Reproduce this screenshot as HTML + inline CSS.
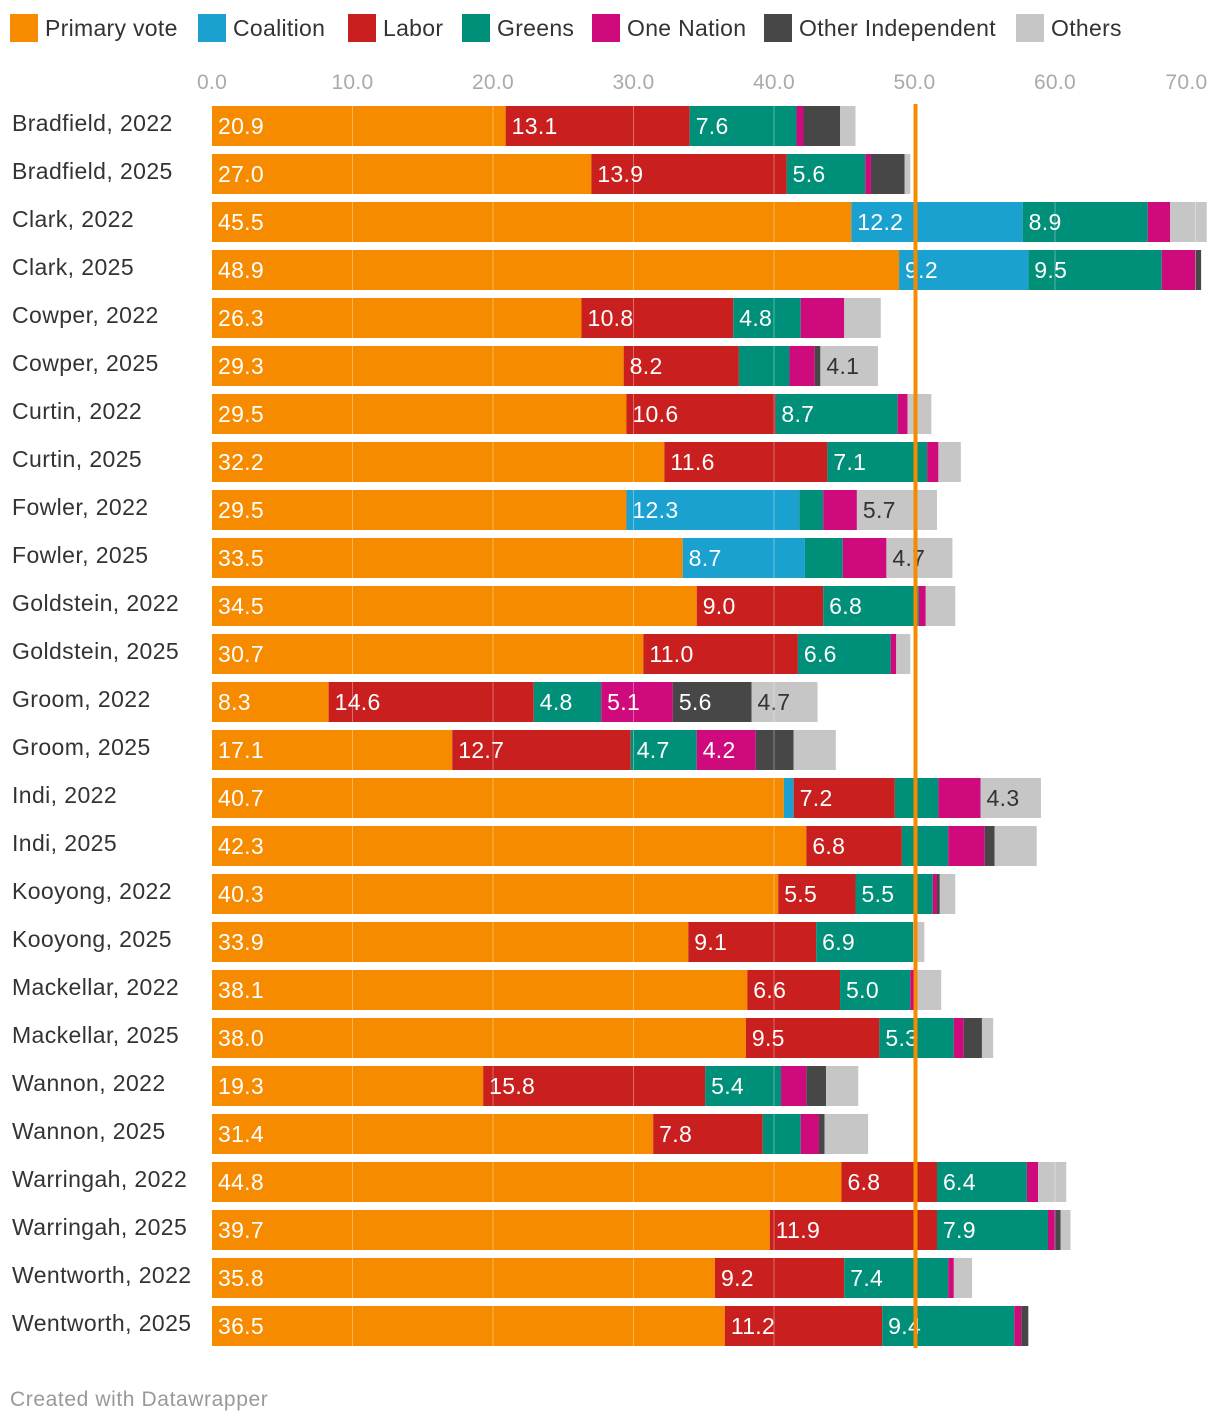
<!DOCTYPE html>
<html><head><meta charset="utf-8">
<style>
body{margin:0;background:#fff;font-family:"Liberation Sans",sans-serif;}
#wrap{position:relative;width:1220px;height:1422px;}
</style></head>
<body>
<div id="wrap">
<svg id="svg" width="1220" height="1422" xmlns="http://www.w3.org/2000/svg"></svg>
</div>
<script>
const categories=["Bradfield, 2022","Bradfield, 2025","Clark, 2022","Clark, 2025","Cowper, 2022","Cowper, 2025","Curtin, 2022","Curtin, 2025","Fowler, 2022","Fowler, 2025","Goldstein, 2022","Goldstein, 2025","Groom, 2022","Groom, 2025","Indi, 2022","Indi, 2025","Kooyong, 2022","Kooyong, 2025","Mackellar, 2022","Mackellar, 2025","Wannon, 2022","Wannon, 2025","Warringah, 2022","Warringah, 2025","Wentworth, 2022","Wentworth, 2025"];
const seriesNames=["Primary vote","Coalition","Labor","Greens","One Nation","Other Independent","Others"];
const seriesColors=["#f68b00","#1ba1cf","#c91f1f","#009079","#cf0a7d","#474747","#c6c6c6"];
const primary=[20.9,27.0,45.5,48.9,26.3,29.3,29.5,32.2,29.5,33.5,34.5,30.7,8.3,17.1,40.7,42.3,40.3,33.9,38.1,38.0,19.3,31.4,44.8,39.7,35.8,36.5];
const coalition=[0,0,12.2,9.2,0,0,0,0,12.3,8.7,0,0,0,0,0.7,0,0,0,0,0,0,0,0,0,0,0];
const labor=[13.1,13.9,0,0,10.8,8.2,10.6,11.6,0,0,9.0,11.0,14.6,12.7,7.2,6.8,5.5,9.1,6.6,9.5,15.8,7.8,6.8,11.9,9.2,11.2];
const greens=[7.6,5.6,8.9,9.5,4.8,3.6,8.7,7.1,1.7,2.7,6.8,6.6,4.8,4.7,3.1,3.3,5.5,6.9,5.0,5.3,5.4,2.7,6.4,7.9,7.4,9.4];
const oneNation=[0.5,0.4,1.6,2.4,3.1,1.8,0.7,0.8,2.4,3.1,0.5,0.4,5.1,4.2,3.0,2.6,0.3,0,0.5,0.7,1.8,1.3,0.8,0.5,0.4,0.5];
const otherInd=[2.6,2.4,0,0.4,0,0.4,0,0,0,0,0,0,5.6,2.7,0,0.7,0.2,0,0,1.3,1.4,0.4,0,0.4,0,0.5];
const others=[1.1,0.4,2.6,0,2.6,4.1,1.7,1.6,5.7,4.7,2.1,1.0,4.7,3.0,4.3,3.0,1.1,0.8,1.7,0.8,2.3,3.1,2.0,0.7,1.3,0];
const ticks=[0,10,20,30,40,50,60,70];
const refValue=50;

const NS="http://www.w3.org/2000/svg";
const svg=document.getElementById('svg');
const x0=212, pxPer=14.05;
function xs(v){return x0+v*pxPer;}
function ys(i){return 106+i*48;}
const barH=40;
function mk(tag,attrs,parent){const e=document.createElementNS(NS,tag);for(const k in attrs)e.setAttribute(k,attrs[k]);(parent||svg).appendChild(e);return e;}

const legX=[10,198,348,462,592,764,1016];
seriesNames.forEach((n,i)=>{
  const g=mk('g',{});
  
  
  mk('rect',{x:legX[i],y:14,width:28,height:28,fill:seriesColors[i]},g);
  const t=mk('text',{x:legX[i]+35,y:36,'font-size':23,'letter-spacing':0.3,fill:'#333'},g);t.textContent=n;
});
ticks.forEach(v=>{
  const t=mk('text',{x:xs(v),y:89,'font-size':21,'letter-spacing':0.3,fill:'#aaa','text-anchor':v===70?'end':'middle'});
  if(v===70)t.setAttribute('x',xs(v)+12);
  
  
  t.textContent=v.toFixed(1);
});
const series=[primary,coalition,labor,greens,oneNation,otherInd,others];
categories.forEach((c,i)=>{
  const y=ys(i);
  const lab=mk('text',{x:12,y:y+25,'font-size':23,'letter-spacing':0.4,fill:'#333'});
  
  
  lab.textContent=c;
  let acc=0;
  series.forEach((s,k)=>{
    const v=s[i]; if(!v)return;
    const r=mk('rect',{x:xs(acc),y:y,width:v*pxPer,height:barH,fill:seriesColors[k]});
    
    
    if(v>=4){
      const t=mk('text',{x:xs(acc)+6,y:y+28,'font-size':23,'letter-spacing':0.3,fill:k===6?'#333':'#fff'});
      
      
      t.textContent=v.toFixed(1);
    }
    acc+=v;
  });
});
ticks.forEach(v=>{
  if(v===0)return;
  const l=mk('line',{x1:xs(v),x2:xs(v),y1:100,y2:1350,stroke:'#fff','stroke-opacity':0.35,'stroke-width':1});
  
  
});
const rl=mk('rect',{x:xs(refValue)-1,y:104,width:4,height:1244,fill:'#f68b00'});


const cr=mk('text',{x:10,y:1406,'font-size':21,'letter-spacing':0.6,fill:'#999'});


cr.textContent='Created with Datawrapper';
</script>
</body></html>
